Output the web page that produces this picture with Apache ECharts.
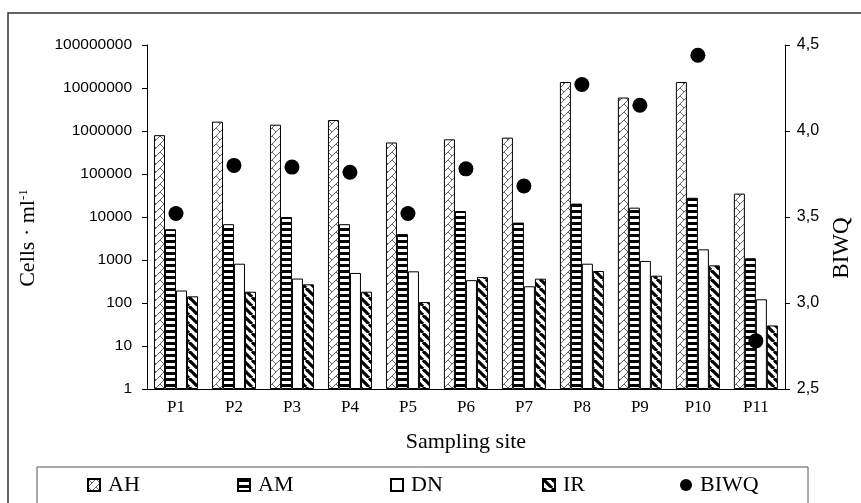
<!DOCTYPE html>
<html>
<head>
	<meta charset="UTF-8">
	<title>sampling sites</title>
	<style>
		html, body { margin: 0; padding: 0; background: #fff; }
	</style>
</head>
<body>
	<div id="mychart" style="width:861px;height:503px;"></div>
<script type="text/javascript" src="https://cdn.jsdelivr.net/npm/echarts@6/dist/echarts.min.js"></script>
<script type="text/javascript">
	var sites = ['P1','P2','P3','P4','P5','P6','P7','P8','P9','P10','P11'];
	var dataAH = [800000,1650000,1400000,1800000,540000,640000,700000,13800000,6000000,13800000,35000];
	var dataAM = [5200,6800,10000,6800,4000,13800,7400,20500,16500,28000,1100];
	var dataDN = [195,820,370,500,545,340,245,820,950,1770,122];
	var dataIR = [143,183,272,183,105,400,368,555,432,750,30];
	var dataBIWQ = [3.52,3.80,3.79,3.76,3.52,3.78,3.68,4.27,4.15,4.44,2.78];
	var leftTicks = ['1','10','100','1000','10000','100000','1000000','10000000','100000000'];

	var serif = 'Liberation Serif, Times New Roman, serif';
	var sans = 'Liberation Sans, Arial, sans-serif';

	// 填充图案
	function makePattern(size, draw){
		var c = document.createElement('canvas');
		c.width = size; c.height = size;
		var ctx = c.getContext('2d');
		ctx.fillStyle = '#fff';
		ctx.fillRect(0, 0, size, size);
		draw(ctx, size);
		return { image: c, repeat: 'repeat' };
	}
	var patAH = makePattern(8, function(ctx, s){
		ctx.strokeStyle = '#555';
		ctx.lineWidth = 0.9;
		for (var k = -s; k <= s; k += s) {
			ctx.beginPath(); ctx.moveTo(k + s, 0); ctx.lineTo(k, s); ctx.stroke();
			ctx.beginPath(); ctx.moveTo(k, 0); ctx.lineTo(k + s * 0.5, s * 0.5); ctx.stroke();
		}
	});
	var patAM = makePattern(6, function(ctx, s){
		ctx.fillStyle = '#000';
		ctx.fillRect(0, 0, s, 3);
	});
	var patIR = makePattern(9, function(ctx, s){
		ctx.strokeStyle = '#000';
		ctx.lineWidth = 3.2;
		for (var k = -s; k <= s; k += s) {
			ctx.beginPath(); ctx.moveTo(k, 0); ctx.lineTo(k + s, s); ctx.stroke();
		}
	});

	function barSeries(name, data, fill){
		return {
			name: name,
			type: 'bar',
			barWidth: 11,
			barGap: '0%',
			data: data,
			itemStyle: { color: fill, borderColor: '#000', borderWidth: 1 }
		};
	}

	function legendAt(name, left, icon){
		return {
			data: [{ name: name, icon: icon }],
			left: left,
			top: 474,
			padding: 0,
			itemWidth: 12,
			itemHeight: 12,
			textStyle: { fontFamily: serif, fontSize: 22, color: '#000', padding: [0, 0, 0, 3] }
		};
	}

	var myChart = echarts.init(document.getElementById('mychart'));
	var option = {
		animation: false,
		grid: { left: 147, right: 71, top: 45, bottom: 114 },
		graphic: [
			{ type: 'rect', shape: { x: 8, y: 13, width: 900, height: 600 }, style: { fill: 'none', stroke: '#333', lineWidth: 1.5 }, silent: true },
			{ type: 'rect', shape: { x: 37, y: 467, width: 771, height: 60 }, style: { fill: '#fff', stroke: '#555', lineWidth: 1 }, silent: true, z: -1 }
		],
		legend: [
			legendAt('AH', 87, 'rect'),
			legendAt('AM', 237, 'rect'),
			legendAt('DN', 390, 'rect'),
			legendAt('IR', 542, 'rect'),
			legendAt('BIWQ', 680, 'circle')
		],
		xAxis: {
			type: 'category',
			data: sites,
			name: 'Sampling site',
			nameLocation: 'middle',
			nameGap: 42,
			nameTextStyle: { fontFamily: serif, fontSize: 22, color: '#000' },
			axisLine: { lineStyle: { color: '#000', width: 1 } },
			axisTick: { length: 5, lineStyle: { color: '#000' } },
			axisLabel: { fontFamily: serif, fontSize: 17, color: '#000', margin: 10 }
		},
		yAxis: [
			{
				type: 'log',
				logBase: 10,
				min: 1,
				max: 100000000,
				splitNumber: 8,
				name: 'Cells · ml{sup|-1}',
				nameLocation: 'middle',
				nameGap: 107,
				nameRotate: 90,
				nameTextStyle: {
					fontFamily: serif, fontSize: 22, color: '#000', padding: [0, 42, 0, 0],
					rich: { sup: { fontFamily: serif, fontSize: 13, color: '#000', padding: [0, 0, 10, 0] } }
				},
				axisLine: { show: true, lineStyle: { color: '#000', width: 1 } },
				axisTick: { show: true, length: 5, lineStyle: { color: '#000' } },
				splitLine: { show: false },
				axisLabel: {
					fontFamily: sans, fontSize: 15.5, color: '#000', margin: 15,
					formatter: function(v){ return leftTicks[Math.round(Math.log10(v))]; }
				}
			},
			{
				type: 'value',
				min: 2.5,
				max: 4.5,
				interval: 0.5,
				position: 'right',
				name: 'BIWQ',
				nameLocation: 'middle',
				nameGap: 45,
				nameRotate: 90,
				nameTextStyle: { fontFamily: serif, fontSize: 23, color: '#000', padding: [0, 62, 0, 0] },
				axisLine: { show: true, lineStyle: { color: '#000', width: 1 } },
				axisTick: { show: true, length: 5, lineStyle: { color: '#000' } },
				splitLine: { show: false },
				axisLabel: {
					fontFamily: sans, fontSize: 16, color: '#000', margin: 12,
					formatter: function(v){ return v.toFixed(1).replace('.', ','); }
				}
			}
		],
		series: [
			barSeries('AH', dataAH, patAH),
			barSeries('AM', dataAM, patAM),
			barSeries('DN', dataDN, '#fff'),
			barSeries('IR', dataIR, patIR),
			{
				name: 'BIWQ',
				type: 'scatter',
				yAxisIndex: 1,
				symbol: 'circle',
				symbolSize: 15,
				data: dataBIWQ,
				itemStyle: { color: '#000', opacity: 1 },
				z: 5
			}
		]
	};
	myChart.setOption(option);
</script>
</body>
</html>
